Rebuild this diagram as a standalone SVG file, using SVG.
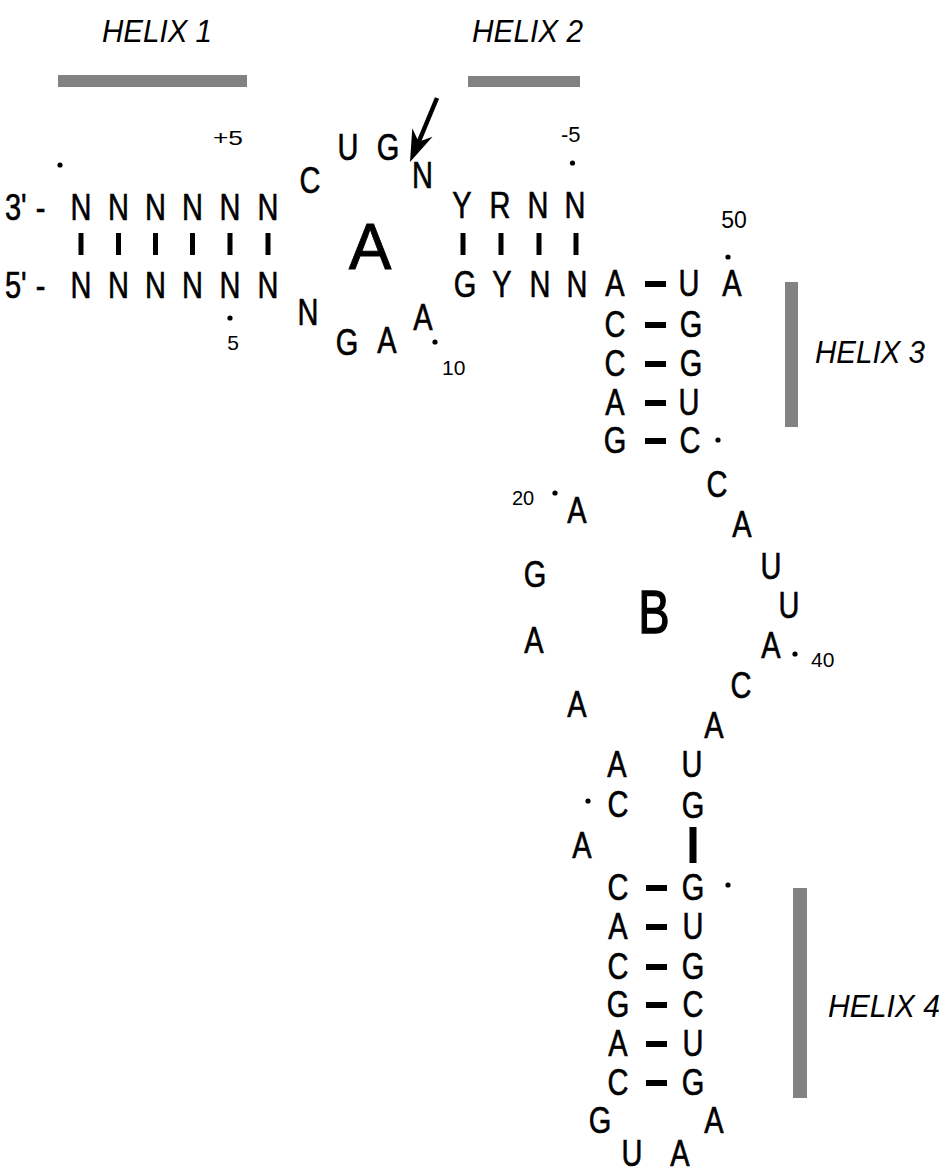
<svg xmlns="http://www.w3.org/2000/svg" width="947" height="1173" viewBox="0 0 947 1173">
  <style>
    text { font-family: "Liberation Sans", Arial, Helvetica, sans-serif; fill: #000; }
    /* nucleotide letters: tall, narrow sans (vertical stretch set per letter with its position) */
    .nt { font-size: 29px; text-anchor: middle; stroke: #000; stroke-width: 0.5px; }
    .num { font-size: 21px; }
    .lbl { font-size: 31px; font-style: italic; }
    .loop { font-size: 64px; text-anchor: middle; stroke: #000; stroke-width: 0.8px; }
    .hbar { fill: #828282; }
    .bp { fill: #000; }
  </style>
  <defs>
    <rect id="vpair" x="-2.5" y="0" width="5" height="22"/>
    <rect id="hpair" x="0" y="-3" width="21" height="6"/>
    <circle id="pt" r="2.6"/>
  </defs>

  <!-- helix labels and bars -->
  <g id="helix-labels">
    <text class="lbl" x="102" y="41.7" textLength="110" lengthAdjust="spacingAndGlyphs">HELIX 1</text>
    <rect class="hbar" x="58" y="75" width="189" height="12"/>
    <text class="lbl" x="472" y="42" textLength="111" lengthAdjust="spacingAndGlyphs">HELIX 2</text>
    <rect class="hbar" x="468" y="76" width="112" height="11"/>
    <rect class="hbar" x="785" y="282" width="13" height="145"/>
    <text class="lbl" x="815" y="363" textLength="110" lengthAdjust="spacingAndGlyphs">HELIX 3</text>
    <rect class="hbar" x="793" y="888" width="14" height="210"/>
    <text class="lbl" x="828" y="1017" textLength="112" lengthAdjust="spacingAndGlyphs">HELIX 4</text>
  </g>

  <!-- helix 1 -->
  <g id="helix1">
    <text class="nt" style="text-anchor:start" transform="translate(5 220) scale(1 1.26)">3'<tspan dx="9">-</tspan></text>
    <text class="nt" transform="translate(81 220) scale(1 1.26)">N</text>
    <text class="nt" transform="translate(118.5 220) scale(1 1.26)">N</text>
    <text class="nt" transform="translate(155.5 220) scale(1 1.26)">N</text>
    <text class="nt" transform="translate(192.5 220) scale(1 1.26)">N</text>
    <text class="nt" transform="translate(230 220) scale(1 1.26)">N</text>
    <text class="nt" transform="translate(268 220) scale(1 1.26)">N</text>
    <text class="nt" style="text-anchor:start" transform="translate(5 298) scale(1 1.26)">5'<tspan dx="9">-</tspan></text>
    <text class="nt" transform="translate(81 298) scale(1 1.26)">N</text>
    <text class="nt" transform="translate(118.5 298) scale(1 1.26)">N</text>
    <text class="nt" transform="translate(155.5 298) scale(1 1.26)">N</text>
    <text class="nt" transform="translate(192.5 298) scale(1 1.26)">N</text>
    <text class="nt" transform="translate(230 298) scale(1 1.26)">N</text>
    <text class="nt" transform="translate(268 298) scale(1 1.26)">N</text>
    <text class="num" x="213" y="145" textLength="30" lengthAdjust="spacingAndGlyphs">+5</text>
    <use href="#pt" x="60" y="165"/>
    <use href="#pt" x="230" y="318"/>
    <text class="num" x="233" y="350" style="text-anchor:middle">5</text>
  </g>

  <!-- loop A -->
  <g id="loopA">
    <text class="nt" transform="translate(310 193) scale(1 1.26)">C</text>
    <text class="nt" transform="translate(348 160) scale(1 1.26)">U</text>
    <text class="nt" transform="translate(388 160) scale(1 1.26)">G</text>
    <text class="nt" transform="translate(422.5 188) scale(1 1.26)">N</text>
    <text class="loop" x="370" y="269">A</text>
    <text class="nt" transform="translate(308 325) scale(1 1.26)">N</text>
    <text class="nt" transform="translate(347 355) scale(1 1.26)">G</text>
    <text class="nt" transform="translate(387 353) scale(1 1.26)">A</text>
    <text class="nt" transform="translate(423 330) scale(1 1.26)">A</text>
    <use href="#pt" x="435" y="342"/>
    <text class="num" x="442" y="375">10</text>
  </g>

  <!-- cleavage-site arrow -->
  <g id="arrow">
    <line x1="437" y1="98" x2="417" y2="146" stroke="#000" stroke-width="4.5"/>
    <polygon points="410,162 412.3,128.2 418.6,141.7 432.5,136.8" fill="#000"/>
  </g>

  <!-- helix 2 -->
  <g id="helix2">
    <text class="nt" transform="translate(462 218) scale(1 1.26)">Y</text>
    <text class="nt" transform="translate(500 218) scale(1 1.26)">R</text>
    <text class="nt" transform="translate(538 218) scale(1 1.26)">N</text>
    <text class="nt" transform="translate(575 218) scale(1 1.26)">N</text>
    <text class="nt" transform="translate(465 296.5) scale(1 1.26)">G</text>
    <text class="nt" transform="translate(502 296.5) scale(1 1.26)">Y</text>
    <text class="nt" transform="translate(540 296.5) scale(1 1.26)">N</text>
    <text class="nt" transform="translate(577 296.5) scale(1 1.26)">N</text>
    <text class="num" x="561" y="142" style="font-size:22px">-5</text>
    <use href="#pt" x="572.5" y="163"/>
  </g>

  <!-- helix 3 -->
  <g id="helix3">
    <text class="nt" transform="translate(615 296) scale(1 1.26)">A</text>
    <text class="nt" transform="translate(689 296) scale(1 1.26)">U</text>
    <text class="nt" transform="translate(732 296) scale(1 1.26)">A</text>
    <text class="nt" transform="translate(615 337) scale(1 1.26)">C</text>
    <text class="nt" transform="translate(691 337) scale(1 1.26)">G</text>
    <text class="nt" transform="translate(615 376) scale(1 1.26)">C</text>
    <text class="nt" transform="translate(691 376) scale(1 1.26)">G</text>
    <text class="nt" transform="translate(615 415) scale(1 1.26)">A</text>
    <text class="nt" transform="translate(689 415) scale(1 1.26)">U</text>
    <text class="nt" transform="translate(615 453) scale(1 1.26)">G</text>
    <text class="nt" transform="translate(690 453) scale(1 1.26)">C</text>
    <use href="#pt" x="718" y="440"/>
    <text class="num" x="734" y="228" style="font-size:23px;text-anchor:middle">50</text>
    <use href="#pt" x="728" y="257"/>
  </g>

  <!-- loop B -->
  <g id="loopB">
    <text class="num" x="512" y="505" style="font-size:20px">20</text>
    <use href="#pt" x="555" y="493"/>
    <text class="nt" transform="translate(577 523) scale(1 1.26)">A</text>
    <text class="nt" transform="translate(535 587) scale(1 1.26)">G</text>
    <text class="nt" transform="translate(534 653) scale(1 1.26)">A</text>
    <text class="nt" transform="translate(577 717) scale(1 1.26)">A</text>
    <text class="nt" transform="translate(617 777) scale(1 1.26)">A</text>
    <use href="#pt" x="588" y="801"/>
    <text class="nt" transform="translate(618 817) scale(1 1.26)">C</text>
    <text class="nt" transform="translate(582 858) scale(1 1.26)">A</text>
    <text class="nt" transform="translate(717 497) scale(1 1.26)">C</text>
    <text class="nt" transform="translate(742 537) scale(1 1.26)">A</text>
    <text class="nt" transform="translate(771 579) scale(1 1.26)">U</text>
    <text class="nt" transform="translate(789 618) scale(1 1.26)">U</text>
    <text class="nt" transform="translate(771 658) scale(1 1.26)">A</text>
    <use href="#pt" x="795" y="654"/>
    <text class="num" x="811" y="667">40</text>
    <text class="nt" transform="translate(741 698) scale(1 1.26)">C</text>
    <text class="nt" transform="translate(714 738) scale(1 1.26)">A</text>
    <text class="nt" transform="translate(692 777) scale(1 1.26)">U</text>
    <text class="nt" transform="translate(693 818) scale(1 1.26)">G</text>
    <text class="loop" transform="translate(654 633) scale(0.76 1)" style="font-size:62px;stroke-width:1.4px">B</text>
  </g>

  <!-- helix 4 -->
  <g id="helix4">
    <text class="nt" transform="translate(618 900) scale(1 1.26)">C</text>
    <text class="nt" transform="translate(693 900) scale(1 1.26)">G</text>
    <text class="nt" transform="translate(618 939) scale(1 1.26)">A</text>
    <text class="nt" transform="translate(693 939) scale(1 1.26)">U</text>
    <text class="nt" transform="translate(618 979) scale(1 1.26)">C</text>
    <text class="nt" transform="translate(693 979) scale(1 1.26)">G</text>
    <text class="nt" transform="translate(618 1017) scale(1 1.26)">G</text>
    <text class="nt" transform="translate(693 1017) scale(1 1.26)">C</text>
    <text class="nt" transform="translate(618 1056) scale(1 1.26)">A</text>
    <text class="nt" transform="translate(693 1056) scale(1 1.26)">U</text>
    <text class="nt" transform="translate(618 1095) scale(1 1.26)">C</text>
    <text class="nt" transform="translate(693 1095) scale(1 1.26)">G</text>
    <use href="#pt" x="728" y="885"/>
    <text class="nt" transform="translate(600 1133) scale(1 1.26)">G</text>
    <text class="nt" transform="translate(714 1133) scale(1 1.26)">A</text>
    <text class="nt" transform="translate(632 1166) scale(1 1.26)">U</text>
    <text class="nt" transform="translate(680 1166) scale(1 1.26)">A</text>
  </g>

  <!-- base-pair connectors -->
  <g id="connectors" class="bp">
    <use href="#vpair" x="81" y="233"/>
    <use href="#vpair" x="118.5" y="233"/>
    <use href="#vpair" x="155.5" y="233"/>
    <use href="#vpair" x="192.5" y="233"/>
    <use href="#vpair" x="230" y="233"/>
    <use href="#vpair" x="268" y="233"/>
    <use href="#vpair" x="463" y="233"/>
    <use href="#vpair" x="501" y="233"/>
    <use href="#vpair" x="539" y="233"/>
    <use href="#vpair" x="576" y="233"/>
    <use href="#hpair" x="645" y="284"/>
    <use href="#hpair" x="645" y="325"/>
    <use href="#hpair" x="645" y="364"/>
    <use href="#hpair" x="645" y="403"/>
    <use href="#hpair" x="645" y="441"/>
    <rect x="689.5" y="827" width="7" height="36"/>
    <use href="#hpair" x="646" y="888"/>
    <use href="#hpair" x="646" y="927"/>
    <use href="#hpair" x="646" y="967"/>
    <use href="#hpair" x="646" y="1005"/>
    <use href="#hpair" x="646" y="1044"/>
    <use href="#hpair" x="646" y="1083"/>
  </g>
</svg>
